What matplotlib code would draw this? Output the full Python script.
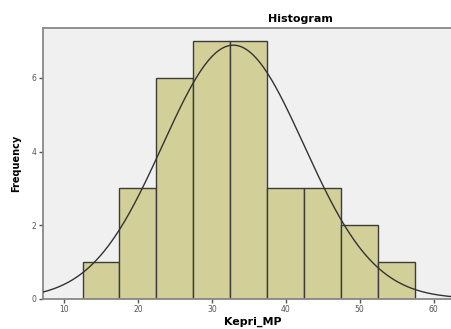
import numpy as np
import matplotlib.pyplot as plt

# Histogram counts per 5-unit bin of Kepri_MP
BIN_EDGES = [12.5, 17.5, 22.5, 27.5, 32.5, 37.5, 42.5, 47.5, 52.5, 57.5]
COUNTS = [1, 3, 6, 7, 7, 3, 3, 2, 1]
X_TICKS = [10, 20, 30, 40, 50, 60]
Y_TICKS = [0, 2, 4, 6]
# Normal fit parameters
MEAN = 32.9
SD = 9.55

fig = plt.figure(figsize=(4.51, 3.29), dpi=100)
ax = fig.add_axes([0.0953, 0.092, 0.93, 0.823])
ax.set_facecolor('#f0f0f0')

widths = np.diff(BIN_EDGES)
ax.bar(BIN_EDGES[:-1], COUNTS, width=widths, align='edge',
       color='#d3cf98', edgecolor='#3c3c3c', linewidth=1.0, zorder=2)

n = sum(COUNTS)
bw = widths[0]
xs = np.linspace(5, 70, 400)
ys = n * bw * np.exp(-(xs - MEAN) ** 2 / (2 * SD ** 2)) / (SD * np.sqrt(2 * np.pi))
ax.plot(xs, ys, color='#333333', linewidth=1.0, zorder=3)

ax.set_xlim(7.15, 63.9)
ax.set_ylim(0, 7.36)
ax.set_xticks(X_TICKS)
ax.set_yticks(Y_TICKS)
ax.tick_params(axis='both', labelsize=5.5, colors='#555555', length=3,
               width=1.0, pad=1.5)
for side in ['left', 'bottom', 'top', 'right']:
    ax.spines[side].set_color('#888888')
    ax.spines[side].set_linewidth(1.3)

ax.set_xlabel('Kepri_MP', fontsize=8, fontweight='bold', labelpad=2)
ax.set_ylabel('Frequency', fontsize=7, fontweight='bold', labelpad=8)
fig.text(300 / 451, 1 - 19 / 329, 'Histogram', fontsize=8, fontweight='bold',
         ha='center', va='center')

fig.savefig('out.png', dpi=100)
